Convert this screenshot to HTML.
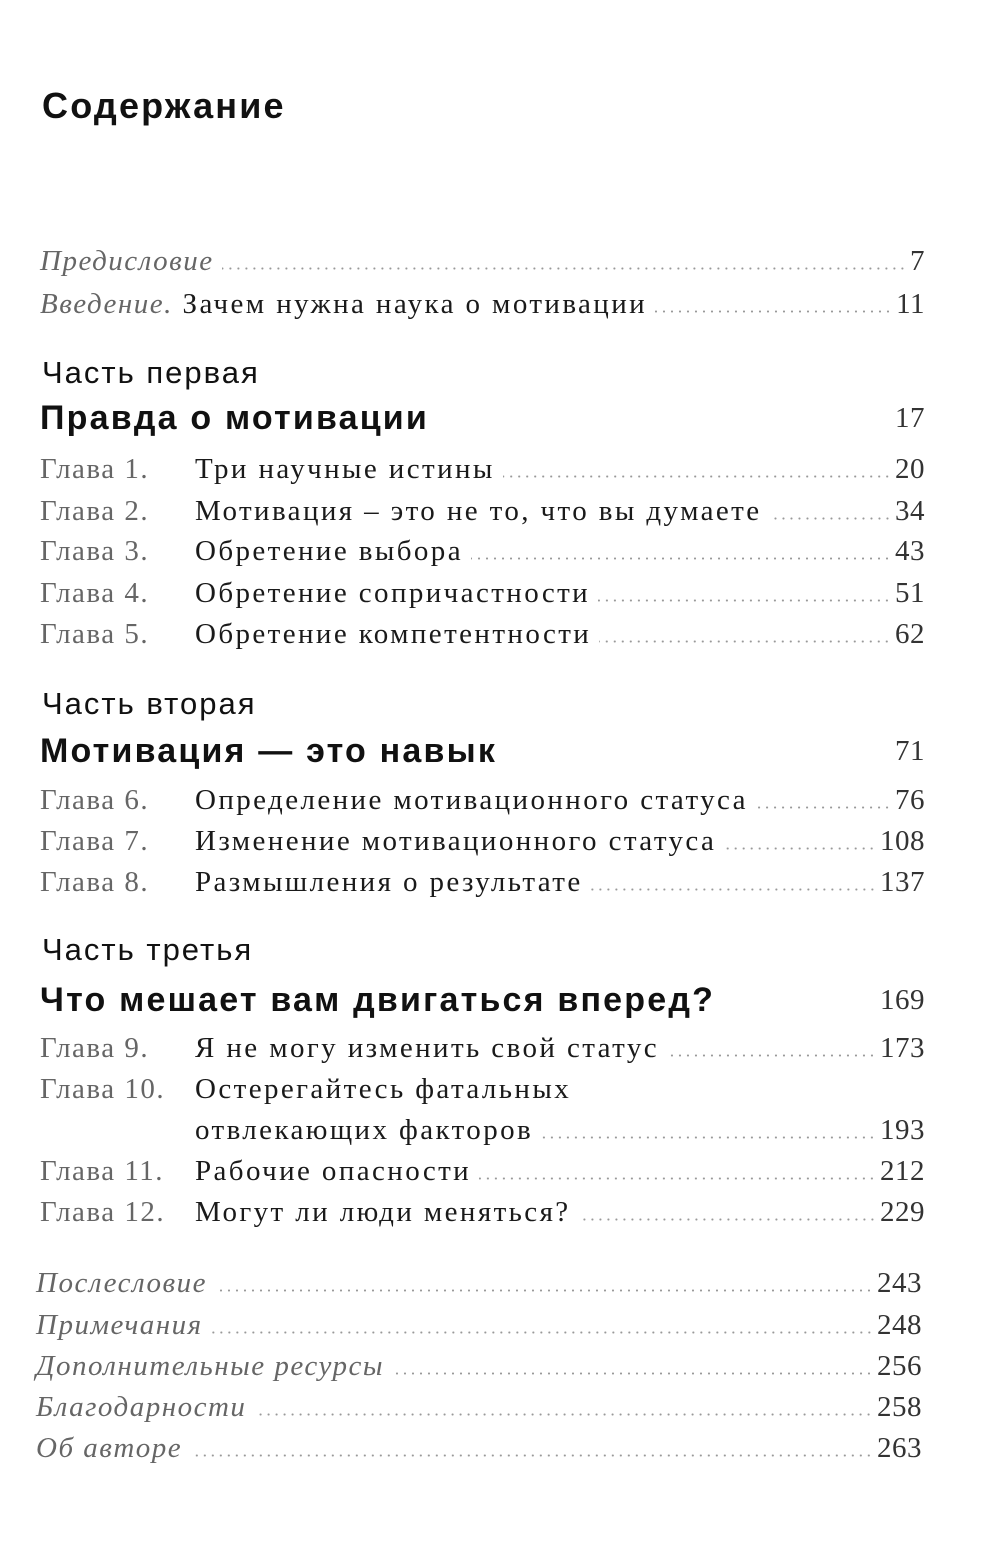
<!DOCTYPE html>
<html><head><meta charset="utf-8"><style>
body{margin:0;width:1000px;height:1548px;background:#fff;position:relative;overflow:hidden;color:#1a1a1a}
.r{position:absolute;left:40px;width:885px;height:36px;line-height:36px;display:flex;align-items:flex-end;font-family:"Liberation Serif",serif;font-size:29px;letter-spacing:2.4px;white-space:nowrap}
.r span{line-height:36px}
.g{color:#666;width:155px;display:inline-block;letter-spacing:1.5px}
.i{font-style:italic;color:#666;letter-spacing:1.5px}
.d{flex:1;margin:0 4px 9px 8px;height:3px;background-image:radial-gradient(circle,#999 0.9px,transparent 1.2px);background-size:8px 3px;background-repeat:repeat-x;background-position:right}
.n{color:#333;letter-spacing:0.5px}
.h{position:absolute;left:42px;font-family:"Liberation Sans",sans-serif;font-size:31px;color:#111;letter-spacing:2px}
.b{font-weight:bold;font-size:34px;letter-spacing:2.2px}
.t{position:absolute;left:42px;top:85px;font-family:"Liberation Sans",sans-serif;font-weight:bold;font-size:36px;letter-spacing:2.2px;color:#111}
</style></head><body>
<div class="t">Содержание</div>

<div class="r" style="top:243px"><span class="i">Предисловие</span><span class="d"></span><span class="n">7</span></div>
<div class="r" style="top:286px"><span><span class="i">Введение.</span> Зачем нужна наука о мотивации</span><span class="d"></span><span class="n">11</span></div>

<div class="h" style="top:355px">Часть первая</div>
<div class="r" style="top:400px"><span class="h b" style="position:static">Правда о мотивации</span><span style="flex:1"></span><span class="n">17</span></div>
<div class="r" style="top:451px"><span class="g">Глава 1.</span><span>Три научные истины</span><span class="d"></span><span class="n">20</span></div>
<div class="r" style="top:493px"><span class="g">Глава 2.</span><span>Мотивация – это не то, что вы думаете</span><span class="d"></span><span class="n">34</span></div>
<div class="r" style="top:533px"><span class="g">Глава 3.</span><span>Обретение выбора</span><span class="d"></span><span class="n">43</span></div>
<div class="r" style="top:575px"><span class="g">Глава 4.</span><span>Обретение сопричастности</span><span class="d"></span><span class="n">51</span></div>
<div class="r" style="top:616px"><span class="g">Глава 5.</span><span>Обретение компетентности</span><span class="d"></span><span class="n">62</span></div>

<div class="h" style="top:686px">Часть вторая</div>
<div class="r" style="top:733px"><span class="h b" style="position:static">Мотивация — это навык</span><span style="flex:1"></span><span class="n">71</span></div>
<div class="r" style="top:782px"><span class="g">Глава 6.</span><span>Определение мотивационного статуса</span><span class="d"></span><span class="n">76</span></div>
<div class="r" style="top:823px"><span class="g">Глава 7.</span><span>Изменение мотивационного статуса</span><span class="d"></span><span class="n">108</span></div>
<div class="r" style="top:864px"><span class="g">Глава 8.</span><span>Размышления о результате</span><span class="d"></span><span class="n">137</span></div>

<div class="h" style="top:932px">Часть третья</div>
<div class="r" style="top:982px"><span class="h b" style="position:static">Что мешает вам двигаться вперед?</span><span style="flex:1"></span><span class="n">169</span></div>
<div class="r" style="top:1030px"><span class="g">Глава 9.</span><span>Я не могу изменить свой статус</span><span class="d"></span><span class="n">173</span></div>
<div class="r" style="top:1071px"><span class="g">Глава 10.</span><span>Остерегайтесь фатальных</span></div>
<div class="r" style="top:1112px"><span class="g"></span><span>отвлекающих факторов</span><span class="d"></span><span class="n">193</span></div>
<div class="r" style="top:1153px"><span class="g">Глава 11.</span><span>Рабочие опасности</span><span class="d"></span><span class="n">212</span></div>
<div class="r" style="top:1194px"><span class="g">Глава 12.</span><span>Могут ли люди меняться?</span><span class="d"></span><span class="n">229</span></div>

<div class="r" style="top:1265px;left:36px;width:886px"><span class="i">Послесловие</span><span class="d"></span><span class="n">243</span></div>
<div class="r" style="top:1307px;left:36px;width:886px"><span class="i">Примечания</span><span class="d"></span><span class="n">248</span></div>
<div class="r" style="top:1348px;left:36px;width:886px"><span class="i">Дополнительные ресурсы</span><span class="d"></span><span class="n">256</span></div>
<div class="r" style="top:1389px;left:36px;width:886px"><span class="i">Благодарности</span><span class="d"></span><span class="n">258</span></div>
<div class="r" style="top:1430px;left:36px;width:886px"><span class="i">Об авторе</span><span class="d"></span><span class="n">263</span></div>
</body></html>
